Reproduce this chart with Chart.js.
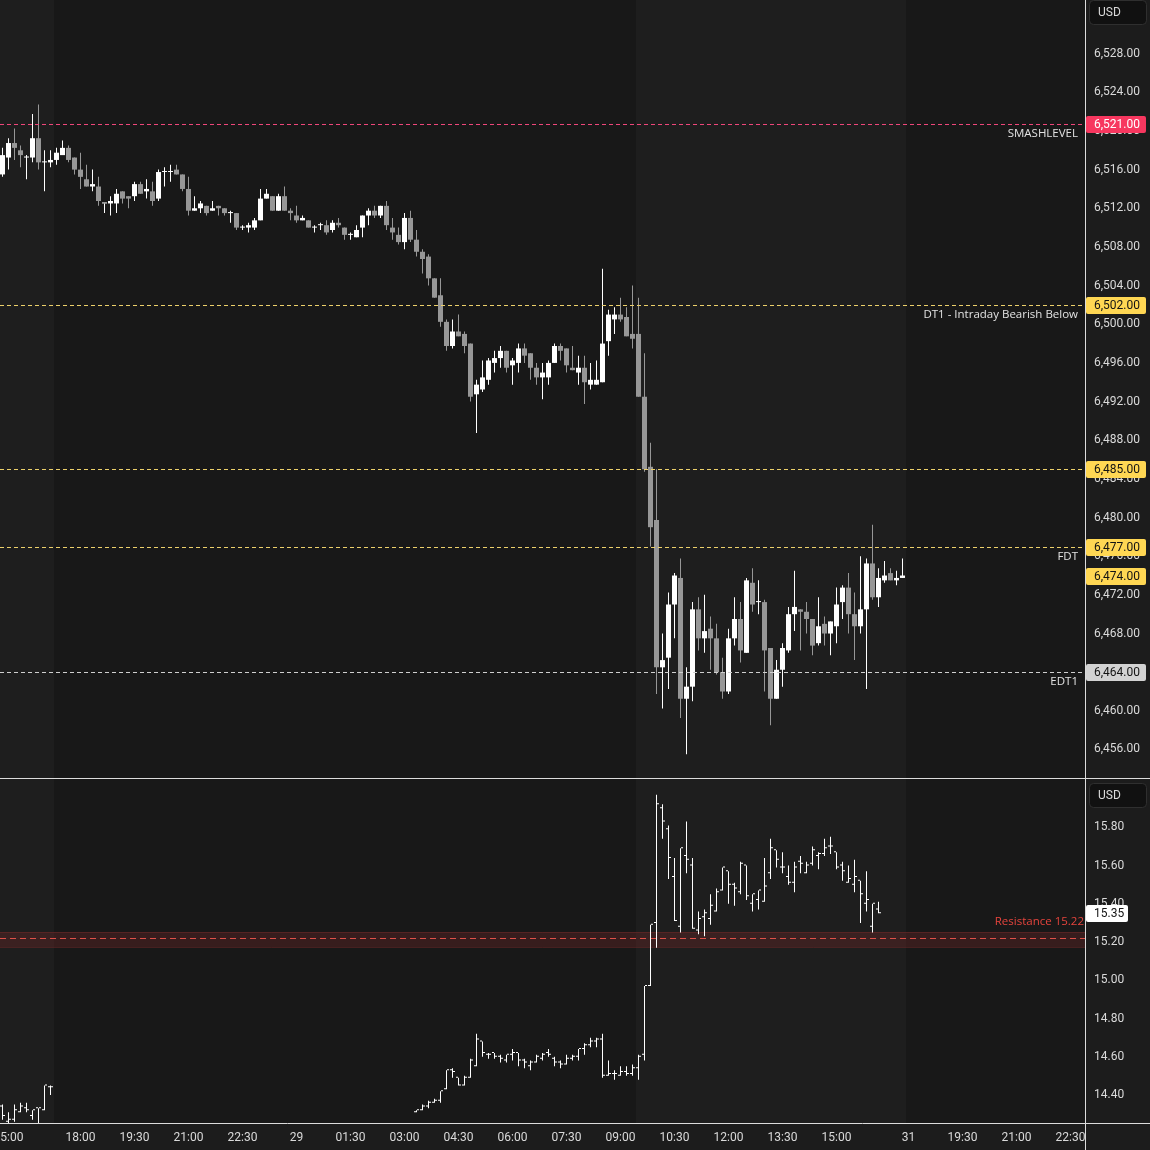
<!DOCTYPE html>
<html>
<head>
<meta charset="utf-8">
<script src="https://cdn.jsdelivr.net/npm/chart.js@4.4.1/dist/chart.umd.min.js"></script>
<style>
  html, body { margin: 0; padding: 0; background: #1c1c1c; }
  #wrap { position: relative; width: 1150px; height: 1150px; overflow: hidden; }
  #priceChart { position: absolute; left: 0; top: 0; }
  #sep { position: absolute; left: 0; top: 778px; width: 1150px; height: 1px; background: #dcdcdc; }
  #vixChart { position: absolute; left: 0; top: 779px; }
</style>
</head>
<body>
<div id="wrap">
  <canvas id="priceChart" width="1150" height="778"></canvas>
  <div id="sep"></div>
  <canvas id="vixChart" width="1150" height="371"></canvas>
</div>
<script>
// bar slots are 10-minute steps, slot 0 = 15:00, the 17:00-18:00 break is removed
const ES_START = -1;

const esOpen = [
  6515.5, 6517.25, 6518.75, 6518.0, 6517.25, 6517.25, 6519.25, 6516.75, 6516.75, 6517.0,
  6517.5, 6518.25, 6517.25, 6516.0, 6515.0, 6514.25, 6514.25, 6512.5, 6512.5, 6512.5,
  6513.75, 6513.25, 6513.25, 6514.5, 6513.75, 6513.75, 6513.0, 6515.75, 6515.75, 6516.0,
  6515.5, 6514.0, 6511.75, 6512.0, 6512.25, 6511.75, 6512.25, 6512.0, 6511.5, 6511.5,
  6510.0, 6510.0, 6510.0, 6510.75, 6513.0, 6513.25, 6511.75, 6513.25, 6511.75, 6511.25,
  6510.75, 6510.75, 6510.0, 6510.25, 6510.25, 6509.75, 6510.5, 6510.0, 6509.25, 6509.0,
  6510.0, 6511.25, 6511.75, 6511.25, 6512.25, 6510.0, 6509.25, 6508.5, 6511.0, 6508.75,
  6507.5, 6507.0, 6504.75, 6503.0, 6500.25, 6497.75, 6499.25, 6499.0, 6498.0, 6492.75,
  6493.25, 6494.25, 6496.0, 6496.5, 6497.25, 6495.75, 6496.0, 6497.5, 6497.0, 6495.5,
  6494.5, 6494.5, 6496.0, 6497.75, 6497.5, 6495.5, 6495.0, 6495.5, 6493.75, 6493.75,
  6494.0, 6498.25, 6500.5, 6501.0, 6500.75, 6499.0, 6499.0, 6492.5, 6485.25, 6479.75,
  6464.5, 6465.5, 6471.0, 6473.75, 6461.25, 6462.5, 6470.5, 6467.5, 6468.5, 6467.5,
  6464.0, 6462.0, 6467.5, 6469.5, 6466.0, 6473.25, 6471.25, 6471.25, 6466.5, 6461.25,
  6464.25, 6466.25, 6470.0, 6470.5, 6470.25, 6469.5, 6467.0, 6469.0, 6468.0, 6468.75,
  6471.25, 6472.75, 6470.0, 6468.75, 6470.5, 6475.25, 6471.75, 6473.5, 6474.25, 6473.5,
  6473.75
];
const esHigh = [
  6518.25, 6519.25, 6520.25, 6518.5, 6517.5, 6521.75, 6522.75, 6518.0, 6518.0, 6518.25,
  6519.0, 6518.5, 6517.25, 6517.75, 6516.5, 6516.0, 6515.25, 6512.5, 6513.25, 6514.0,
  6513.75, 6513.25, 6514.75, 6514.75, 6515.0, 6514.75, 6516.0, 6516.25, 6516.5, 6516.5,
  6515.5, 6515.25, 6513.25, 6512.75, 6512.25, 6512.75, 6512.25, 6512.0, 6511.75, 6511.5,
  6510.25, 6510.5, 6511.0, 6514.0, 6514.0, 6513.25, 6513.5, 6514.25, 6512.0, 6512.25,
  6511.25, 6510.75, 6510.25, 6510.5, 6510.75, 6510.75, 6511.0, 6510.0, 6509.5, 6510.25,
  6511.25, 6512.0, 6512.25, 6512.25, 6512.75, 6511.0, 6510.0, 6511.5, 6511.75, 6509.75,
  6507.75, 6507.25, 6504.75, 6504.75, 6500.5, 6500.5, 6501.0, 6499.25, 6498.0, 6494.25,
  6496.25, 6496.5, 6497.25, 6497.75, 6497.25, 6496.5, 6498.0, 6498.0, 6497.0, 6496.0,
  6496.0, 6496.25, 6498.0, 6498.0, 6497.5, 6497.75, 6496.75, 6496.75, 6496.0, 6496.25,
  6505.75, 6501.5, 6501.75, 6502.75, 6501.75, 6504.0, 6502.75, 6497.0, 6487.75, 6485.0,
  6468.0, 6472.25, 6474.25, 6475.75, 6464.5, 6471.25, 6471.75, 6472.0, 6469.75, 6469.0,
  6465.5, 6468.5, 6471.75, 6471.25, 6473.75, 6474.75, 6473.5, 6471.5, 6466.5, 6465.25,
  6467.0, 6470.75, 6474.5, 6470.5, 6471.25, 6469.5, 6471.75, 6469.75, 6469.25, 6472.75,
  6473.0, 6474.25, 6472.25, 6476.0, 6475.75, 6479.25, 6474.75, 6475.5, 6474.75, 6474.5,
  6475.75
];
const esLow = [
  6515.25, 6516.0, 6517.0, 6516.25, 6515.0, 6516.75, 6516.0, 6513.75, 6516.25, 6516.5,
  6517.5, 6516.75, 6515.5, 6514.0, 6514.25, 6513.75, 6512.25, 6511.5, 6511.25, 6511.5,
  6512.5, 6512.0, 6512.75, 6513.5, 6513.0, 6512.25, 6512.75, 6514.25, 6514.75, 6515.5,
  6513.75, 6511.25, 6511.75, 6511.5, 6511.25, 6511.75, 6511.25, 6511.25, 6510.5, 6509.75,
  6509.75, 6509.5, 6509.75, 6510.75, 6513.0, 6511.75, 6511.75, 6511.75, 6510.75, 6510.5,
  6510.75, 6510.0, 6509.5, 6509.75, 6509.25, 6509.5, 6510.0, 6508.75, 6508.75, 6509.0,
  6509.0, 6510.25, 6511.0, 6511.0, 6509.75, 6508.75, 6508.25, 6507.75, 6508.5, 6507.0,
  6505.25, 6504.0, 6502.75, 6499.75, 6497.25, 6497.5, 6498.75, 6497.0, 6492.0, 6488.75,
  6493.0, 6493.75, 6495.0, 6495.5, 6495.0, 6493.75, 6495.0, 6496.0, 6494.25, 6493.75,
  6492.25, 6493.75, 6496.0, 6496.25, 6495.0, 6495.25, 6493.75, 6491.75, 6493.25, 6493.75,
  6494.0, 6496.75, 6499.0, 6500.25, 6498.75, 6497.5, 6492.5, 6484.75, 6477.0, 6461.75,
  6460.25, 6462.25, 6467.5, 6459.25, 6455.5, 6461.0, 6466.25, 6466.0, 6464.25, 6463.75,
  6461.25, 6461.75, 6466.75, 6465.0, 6466.0, 6470.25, 6470.0, 6462.0, 6458.5, 6461.25,
  6462.5, 6466.0, 6468.25, 6466.25, 6468.0, 6465.75, 6466.75, 6466.75, 6465.75, 6467.0,
  6469.5, 6468.0, 6465.25, 6468.0, 6462.25, 6471.5, 6470.75, 6473.25, 6473.5, 6473.0,
  6473.75
];
const esClose = [
  6517.5, 6518.75, 6518.25, 6517.5, 6517.25, 6519.25, 6516.75, 6516.75, 6517.0, 6517.75,
  6518.25, 6517.0, 6516.0, 6515.25, 6514.25, 6514.5, 6512.75, 6512.5, 6512.75, 6513.5,
  6513.0, 6513.0, 6514.5, 6513.5, 6514.0, 6512.75, 6515.75, 6515.75, 6515.75, 6515.5,
  6514.0, 6511.75, 6512.0, 6512.5, 6511.5, 6512.0, 6512.0, 6511.5, 6511.5, 6510.0,
  6510.0, 6510.25, 6510.75, 6513.0, 6513.5, 6511.75, 6513.25, 6511.75, 6511.5, 6510.75,
  6511.0, 6510.0, 6510.0, 6510.25, 6509.5, 6510.5, 6510.25, 6509.25, 6509.25, 6509.75,
  6511.25, 6511.75, 6511.25, 6512.25, 6510.25, 6509.5, 6508.5, 6511.0, 6508.75, 6507.5,
  6506.75, 6504.75, 6502.75, 6500.25, 6497.75, 6499.25, 6498.75, 6497.75, 6492.5, 6493.75,
  6494.5, 6496.25, 6496.5, 6497.25, 6495.5, 6496.25, 6497.5, 6496.75, 6495.5, 6494.5,
  6495.0, 6496.0, 6497.75, 6497.25, 6495.75, 6495.25, 6495.5, 6494.0, 6494.25, 6494.25,
  6498.0, 6501.0, 6501.0, 6500.5, 6498.75, 6498.5, 6492.5, 6485.0, 6479.0, 6464.5,
  6465.25, 6471.0, 6474.0, 6461.25, 6462.5, 6470.5, 6467.5, 6468.25, 6467.5, 6464.0,
  6462.0, 6467.5, 6469.5, 6466.25, 6473.5, 6471.0, 6471.25, 6466.25, 6461.25, 6464.25,
  6466.5, 6470.0, 6470.75, 6470.25, 6469.5, 6466.75, 6468.75, 6468.0, 6469.25, 6471.0,
  6472.75, 6470.0, 6468.75, 6470.5, 6475.25, 6471.75, 6473.75, 6474.0, 6473.5, 6473.75,
  6474.0
];

// VIX bars only exist in two sessions
const vixSessions = [[-1, 7], [68, 145]];
const vixOpen = [
  14.34, 14.26, 14.27, 14.31, 14.33, 14.29, 14.33, 14.32, 14.44,
  14.31, 14.32, 14.34, 14.36, 14.37, 14.43, 14.53, 14.49, 14.45, 14.49,
  14.55, 14.68, 14.61, 14.62, 14.60, 14.58, 14.61, 14.62, 14.58, 14.55,
  14.57, 14.59, 14.62, 14.59, 14.57, 14.56, 14.59, 14.60, 14.64, 14.66,
  14.68, 14.69, 14.50, 14.51, 14.50, 14.52, 14.51, 14.54, 14.61, 14.97,
  15.30, 15.90, 15.79, 15.54, 15.28, 15.65, 15.60, 15.26, 15.33, 15.32,
  15.36, 15.47, 15.57, 15.50, 15.46, 15.60, 15.40, 15.42, 15.41, 15.56,
  15.68, 15.59, 15.54, 15.51, 15.62, 15.56, 15.61, 15.65, 15.66, 15.70,
  15.67, 15.60, 15.51, 15.50, 15.52, 15.40, 15.28, 15.37
];
const vixHigh = [
  14.35, 14.31, 14.35, 14.36, 14.36, 14.32, 14.33, 14.45, 14.45,
  14.32, 14.35, 14.37, 14.38, 14.42, 14.53, 14.54, 14.49, 14.50, 14.59,
  14.72, 14.68, 14.62, 14.62, 14.61, 14.61, 14.64, 14.62, 14.59, 14.58,
  14.61, 14.62, 14.64, 14.60, 14.58, 14.61, 14.61, 14.64, 14.67, 14.70,
  14.70, 14.72, 14.58, 14.53, 14.55, 14.55, 14.56, 14.61, 14.97, 15.29,
  15.97, 15.92, 15.81, 15.64, 15.69, 15.83, 15.64, 15.36, 15.37, 15.45,
  15.48, 15.59, 15.57, 15.51, 15.62, 15.60, 15.45, 15.47, 15.64, 15.74,
  15.68, 15.67, 15.60, 15.62, 15.65, 15.62, 15.70, 15.67, 15.74, 15.75,
  15.67, 15.62, 15.60, 15.63, 15.52, 15.57, 15.40, 15.41
];
const vixLow = [
  14.27, 14.25, 14.26, 14.31, 14.31, 14.27, 14.25, 14.32, 14.40,
  14.31, 14.32, 14.33, 14.36, 14.36, 14.43, 14.49, 14.45, 14.45, 14.49,
  14.55, 14.60, 14.59, 14.59, 14.57, 14.57, 14.58, 14.55, 14.54, 14.53,
  14.57, 14.58, 14.60, 14.55, 14.54, 14.56, 14.58, 14.58, 14.61, 14.65,
  14.65, 14.49, 14.50, 14.48, 14.50, 14.50, 14.50, 14.48, 14.58, 14.97,
  15.17, 15.74, 15.53, 15.31, 15.25, 15.56, 15.27, 15.24, 15.23, 15.29,
  15.36, 15.47, 15.40, 15.39, 15.45, 15.42, 15.36, 15.37, 15.41, 15.53,
  15.59, 15.56, 15.50, 15.46, 15.56, 15.56, 15.60, 15.58, 15.65, 15.66,
  15.58, 15.52, 15.51, 15.46, 15.30, 15.36, 15.25, 15.35
];
const vixClose = [
  14.29, 14.27, 14.32, 14.34, 14.32, 14.32, 14.33, 14.45, 14.44,
  14.32, 14.34, 14.36, 14.37, 14.42, 14.53, 14.52, 14.45, 14.49, 14.58,
  14.69, 14.62, 14.61, 14.60, 14.59, 14.61, 14.62, 14.58, 14.57, 14.57,
  14.60, 14.61, 14.61, 14.57, 14.56, 14.59, 14.60, 14.64, 14.66, 14.68,
  14.69, 14.50, 14.51, 14.51, 14.52, 14.51, 14.54, 14.60, 14.97, 15.29,
  15.92, 15.83, 15.64, 15.31, 15.69, 15.63, 15.27, 15.32, 15.35, 15.39,
  15.46, 15.59, 15.50, 15.48, 15.61, 15.44, 15.45, 15.47, 15.49, 15.69,
  15.63, 15.59, 15.51, 15.59, 15.61, 15.60, 15.68, 15.66, 15.69, 15.70,
  15.59, 15.57, 15.53, 15.54, 15.45, 15.42, 15.40, 15.35
];

const priceTicks = [6456, 6460, 6464, 6468, 6472, 6476, 6480, 6484, 6488, 6492, 6496,
  6500, 6504, 6508, 6512, 6516, 6520, 6524, 6528];
const vixTicks = [14.4, 14.6, 14.8, 15.0, 15.2, 15.4, 15.6, 15.8];
const timeSlots = [0, 12, 21, 30, 39, 48, 57, 66, 75, 84, 93, 102, 111, 120, 129, 138, 150, 159, 168, 177];
const timeLabels = ['15:00', '18:00', '19:30', '21:00', '22:30', '29', '01:30', '03:00', '04:30', '06:00',
  '07:30', '09:00', '10:30', '12:00', '13:30', '15:00', '31', '19:30', '21:00', '22:30'];

const levelPrices = [6520.75, 6502, 6485, 6477, 6464];
const levelNames = ['SMASHLEVEL', 'DT1 - Intraday Bearish Below', '', 'FDT', 'EDT1'];
const levelColors = ['#f0467a', '#ecd06a', '#ecd06a', '#ecd06a', '#cfcfcf'];
const levelTagBg = ['#f7375f', '#ffd753', '#ffd753', '#ffd753', '#d2d2d2'];
const levelTagFg = ['#ffffff', '#131313', '#131313', '#131313', '#131313'];

const resistanceLevel = 15.22;
const resistanceZone = [15.175, 15.25];

// lighter session shading, in slot units
const lightZones = [[-2, 7.5], [104.5, 149.5]];

const X_MIN = -8.5 / 6, X_MAX = (1085 - 8.5) / 6;
const UP = '#ffffff', DOWN = '#979797', TEXT = '#dadada';
const PAGE_BG = '#1c1c1c', DARK_BG = '#181818', LIGHT_BG = '#1e1e1e';
const NOTE_FONT = '11.5px "Open Sans", Roboto, sans-serif';
const TAG_FONT = '12px Roboto, "Liberation Sans", sans-serif';

Chart.defaults.font.family = 'Roboto, "Liberation Sans", sans-serif';
Chart.defaults.font.size = 12;

function fmtPrice(v) {
  return v.toLocaleString('en-US', { minimumFractionDigits: 2, maximumFractionDigits: 2 });
}

function drawTag(ctx, y, text, bg, fg, w) {
  const yy = Math.round(y);
  ctx.fillStyle = bg;
  ctx.beginPath();
  ctx.roundRect(1086, yy - 8, w, 17, 2);
  ctx.fill();
  ctx.fillStyle = fg;
  ctx.font = TAG_FONT;
  ctx.textAlign = 'left';
  ctx.textBaseline = 'middle';
  ctx.fillText(text, 1094, yy + 1);
}

function drawUsdBox(ctx, top) {
  ctx.fillStyle = '#111111';
  ctx.strokeStyle = '#2f2f2f';
  ctx.lineWidth = 1;
  ctx.beginPath();
  ctx.roundRect(1089.5, top + 0.5, 57, 24, 4);
  ctx.fill();
  ctx.stroke();
  ctx.fillStyle = TEXT;
  ctx.font = TAG_FONT;
  ctx.textAlign = 'left';
  ctx.textBaseline = 'middle';
  ctx.fillText('USD', 1098, top + 13);
}

const sessionShade = {
  id: 'sessionShade',
  beforeDraw(chart) {
    const { ctx, chartArea: a, scales: { x } } = chart;
    ctx.save();
    ctx.fillStyle = PAGE_BG;
    ctx.fillRect(0, 0, chart.width, chart.height);
    ctx.fillStyle = DARK_BG;
    ctx.fillRect(a.left, a.top, a.right - a.left, a.bottom - a.top);
    ctx.fillStyle = LIGHT_BG;
    lightZones.forEach(([s, e]) => {
      const x0 = Math.max(a.left, Math.round(x.getPixelForValue(s)));
      const x1 = Math.min(a.right, Math.round(x.getPixelForValue(e)));
      ctx.fillRect(x0, a.top, x1 - x0, a.bottom - a.top);
    });
    ctx.restore();
  }
};

const borderLines = {
  id: 'borderLines',
  afterDraw(chart) {
    const { ctx, chartArea: a } = chart;
    ctx.save();
    ctx.strokeStyle = '#dcdcdc';
    ctx.lineWidth = 1;
    ctx.beginPath();
    ctx.moveTo(a.right + 0.5, 0);
    ctx.lineTo(a.right + 0.5, chart.height);
    if (chart.canvas.id === 'vixChart') {
      ctx.moveTo(0, a.bottom + 0.5);
      ctx.lineTo(chart.width, a.bottom + 0.5);
    }
    ctx.stroke();
    ctx.restore();
  }
};

const priceLevels = {
  id: 'priceLevels',
  afterDatasetsDraw(chart) {
    const { ctx, chartArea: a, scales: { y } } = chart;
    ctx.save();
    levelPrices.forEach((p, k) => {
      const yy = Math.round(y.getPixelForValue(p)) + 0.5;
      ctx.strokeStyle = levelColors[k];
      ctx.setLineDash([4, 3]);
      ctx.lineWidth = 1;
      ctx.beginPath();
      ctx.moveTo(a.left, yy);
      ctx.lineTo(a.right, yy);
      ctx.stroke();
      if (levelNames[k]) {
        ctx.setLineDash([]);
        ctx.fillStyle = '#e2e2e2';
        ctx.font = NOTE_FONT;
        ctx.textAlign = 'right';
        ctx.textBaseline = 'middle';
        ctx.fillText(levelNames[k], a.right - 7, yy + 9);
      }
    });
    ctx.restore();
  },
  afterDraw(chart) {
    const { ctx, scales: { y } } = chart;
    ctx.save();
    levelPrices.forEach((p, k) => {
      drawTag(ctx, y.getPixelForValue(p), fmtPrice(Math.round(p)), levelTagBg[k], levelTagFg[k], 60);
    });
    const last = esClose[esClose.length - 1];
    drawTag(ctx, y.getPixelForValue(last), fmtPrice(last), '#ffd753', '#131313', 60);
    drawUsdBox(ctx, 0);
    ctx.restore();
  }
};

const vixLevels = {
  id: 'vixLevels',
  beforeDatasetsDraw(chart) {
    const { ctx, chartArea: a, scales: { y } } = chart;
    ctx.save();
    const y0 = Math.round(y.getPixelForValue(resistanceZone[1]));
    const y1 = Math.round(y.getPixelForValue(resistanceZone[0]));
    ctx.fillStyle = 'rgba(120, 40, 40, 0.32)';
    ctx.fillRect(a.left, y0, a.right - a.left, y1 - y0);
    ctx.strokeStyle = 'rgba(110, 40, 40, 0.55)';
    ctx.lineWidth = 1;
    ctx.beginPath();
    ctx.moveTo(a.left, y0 + 0.5);
    ctx.lineTo(a.right, y0 + 0.5);
    ctx.moveTo(a.left, y1 + 0.5);
    ctx.lineTo(a.right, y1 + 0.5);
    ctx.stroke();
    const yl = Math.round(y.getPixelForValue(resistanceLevel)) + 0.5;
    ctx.strokeStyle = '#de5149';
    ctx.setLineDash([6, 4]);
    ctx.beginPath();
    ctx.moveTo(a.left, yl);
    ctx.lineTo(a.right, yl);
    ctx.stroke();
    ctx.setLineDash([]);
    ctx.fillStyle = '#e5443d';
    ctx.font = NOTE_FONT;
    ctx.textAlign = 'right';
    ctx.textBaseline = 'middle';
    ctx.fillText('Resistance ' + resistanceLevel.toFixed(2), a.right - 1, yl - 17);
    ctx.restore();
  },
  afterDraw(chart) {
    const { ctx, scales: { y } } = chart;
    ctx.save();
    const last = vixClose[vixClose.length - 1];
    drawTag(ctx, y.getPixelForValue(last), last.toFixed(2), '#ffffff', '#131313', 42);
    drawUsdBox(ctx, 4);
    ctx.restore();
  }
};

// ---- price (candles) ----
const esWicks = esHigh.map((h, k) => ({ x: ES_START + k, y: [esLow[k], h] }));
const esBodies = esOpen.map((o, k) => ({ x: ES_START + k, y: [o, esClose[k]] }));
const esColors = esOpen.map((o, k) => (esClose[k] >= o ? UP : DOWN));

const barBase = { grouped: false, borderWidth: 0, inflateAmount: 0, minBarLength: 1 };

function yAxisBase(extra) {
  return Object.assign({
    position: 'right',
    grid: { display: false, drawTicks: false },
    border: { display: false },
    afterFit: s => { s.width = 65; s.paddingTop = 0; s.paddingBottom = 0; }
  }, extra);
}

new Chart(document.getElementById('priceChart'), {
  type: 'bar',
  data: {
    datasets: [
      Object.assign({ data: esWicks, backgroundColor: esColors, barThickness: 1 }, barBase),
      Object.assign({ data: esBodies, backgroundColor: esColors, barThickness: 5 }, barBase)
    ]
  },
  options: {
    responsive: false,
    animation: false,
    devicePixelRatio: 1,
    layout: { padding: 0, autoPadding: false },
    plugins: { legend: { display: false }, tooltip: { enabled: false } },
    scales: {
      x: { type: 'linear', display: false, min: X_MIN, max: X_MAX, offset: false },
      y: yAxisBase({
        min: 6453.05, max: 6533.55,
        ticks: { color: TEXT, padding: 9, callback: v => fmtPrice(v) },
        afterBuildTicks: s => { s.ticks = priceTicks.map(v => ({ value: v })); }
      })
    }
  },
  plugins: [sessionShade, priceLevels, borderLines]
});

// ---- VIX (OHLC bars) ----
const vixSlots = [];
vixSessions.forEach(([a, b]) => { for (let s = a; s <= b; s++) vixSlots.push(s); });

const vixRange = vixSlots.map((s, k) => ({ x: s, y: [vixLow[k], vixHigh[k]] }));
const vixOpenTicks = vixSlots.map((s, k) => ({ x: s - 0.25, y: [vixOpen[k], vixOpen[k]] }));
const vixCloseTicks = vixSlots.map((s, k) => ({ x: s + 0.25, y: [vixClose[k], vixClose[k]] }));

new Chart(document.getElementById('vixChart'), {
  type: 'bar',
  data: {
    datasets: [
      Object.assign({ data: vixRange, backgroundColor: UP, barThickness: 1 }, barBase),
      Object.assign({ data: vixOpenTicks, backgroundColor: UP, barThickness: 2 }, barBase),
      Object.assign({ data: vixCloseTicks, backgroundColor: UP, barThickness: 2 }, barBase)
    ]
  },
  options: {
    responsive: false,
    animation: false,
    devicePixelRatio: 1,
    layout: { padding: 0, autoPadding: false },
    plugins: { legend: { display: false }, tooltip: { enabled: false } },
    scales: {
      x: {
        type: 'linear', min: X_MIN, max: X_MAX, offset: false,
        grid: { display: false, drawTicks: false },
        border: { display: false },
        ticks: {
          color: TEXT, padding: 8, autoSkip: false, maxRotation: 0,
          callback: (v, i) => timeLabels[i]
        },
        afterBuildTicks: s => { s.ticks = timeSlots.map(v => ({ value: v })); },
        afterFit: s => { s.height = 27; s.paddingLeft = 0; s.paddingRight = 0; }
      },
      y: yAxisBase({
        min: 14.2535, max: 16.0526,
        ticks: { color: TEXT, padding: 9, callback: v => v.toFixed(2) },
        afterBuildTicks: s => { s.ticks = vixTicks.map(v => ({ value: v })); }
      })
    }
  },
  plugins: [sessionShade, vixLevels, borderLines]
});
</script>
</body>
</html>
